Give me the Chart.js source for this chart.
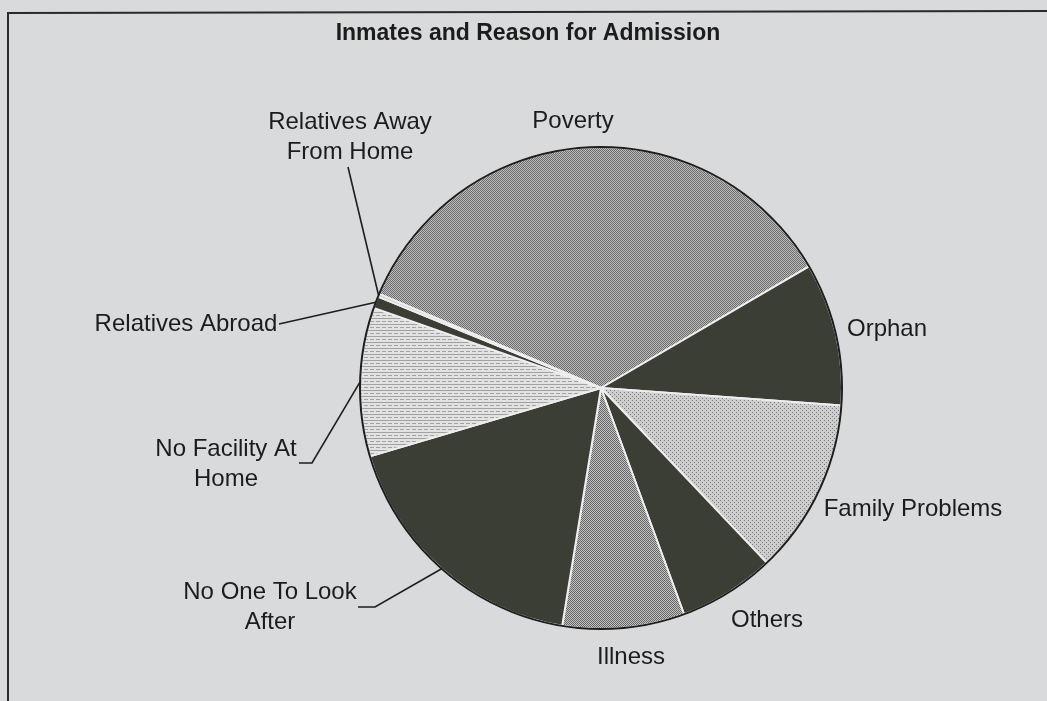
<!DOCTYPE html>
<html>
<head>
<meta charset="utf-8">
<script src="https://cdn.jsdelivr.net/npm/chart.js@4"></script>
<style>
html, body { margin: 0; padding: 0; background: #d9dadc; }
</style>
</head>
<body>
<canvas id="admissionPie" width="1047" height="701"></canvas>
<script>
// data (share of inmates, %)
var reasons = ["Poverty", "Orphan", "Family Problems", "Others", "Illness",
               "No One To Look After", "No Facility At Home", "Relatives Abroad",
               "Relatives Away From Home"];
var shares = [35.3, 9.6, 11.8, 6.5, 8.2, 17.9, 10.0, 0.8, 0.2];

var chartTitle = "Inmates and Reason for Admission";

// how each label is broken up / placed (layout only)
var labelLines = [["Poverty"], ["Orphan"], ["Family Problems"], ["Others"], ["Illness"],
                  ["No One To Look", "After"], ["No Facility At", "Home"],
                  ["Relatives Abroad"], ["Relatives Away", "From Home"]];
var labelAt = [[573, 121], [887, 329], [913, 509], [767, 620], [631, 657],
               [270, 592], [226, 449], [186, 324], [350, 122]];
// leader lines: points from the label side, the last leg goes to the slice edge
var leaders = [null, null, null, null, null,
               [[358, 607], [375, 607]],
               [[299, 463], [312, 463]],
               [[279, 324]],
               [[348, 167]]];

function makePattern(bg, fg, dots, size) {
    var c = document.createElement('canvas');
    c.width = size; c.height = size;
    var g = c.getContext('2d');
    g.fillStyle = bg;
    g.fillRect(0, 0, size, size);
    g.fillStyle = fg;
    dots.forEach(function(d) { g.fillRect(d[0], d[1], d[2], d[3]); });
    return g.createPattern(c, 'repeat');
}

var darkFill = '#3b3e35';
var povertyFill = makePattern('#bcbcbc', '#6c6c6c', [[0, 0, 1, 1], [1, 1, 1, 1]], 2);
var familyFill = makePattern('#cdcdcd', '#7c7c7c', [[0, 0, 1, 1], [2, 2, 1, 1]], 4);
var illnessFill = makePattern('#c2c2c2', '#666666', [[0, 0, 1, 1], [1, 1, 1, 1]], 2);
var facilityFill = makePattern('#e2e2e2', '#a2a2a2', [[0, 0, 6, 1], [0, 3, 2, 1], [4, 3, 2, 1]], 6);

var sliceFills = [povertyFill, darkFill, familyFill, darkFill, illnessFill,
                  darkFill, facilityFill, darkFill, '#cfcfcf'];

var paperPlugin = {
    id: 'paper',
    beforeDraw: function(chart) {
        var c = chart.ctx;
        c.save();
        c.fillStyle = '#d9dadc';
        c.fillRect(0, 0, chart.width, chart.height);
        // frame of the scanned figure
        c.strokeStyle = '#2a2a2a';
        c.lineWidth = 2;
        c.beginPath();
        c.moveTo(8, 701);
        c.lineTo(8, 13);
        c.lineTo(1047, 11);
        c.stroke();
        c.restore();
    },
    afterDatasetsDraw: function(chart) {
        var c = chart.ctx;
        var arcs = chart.getDatasetMeta(0).data;
        c.save();
        // dark outer rim
        var a0 = arcs[0];
        c.strokeStyle = '#1e1e1e';
        c.lineWidth = 2;
        c.beginPath();
        c.arc(a0.x, a0.y, a0.outerRadius, 0, Math.PI * 2);
        c.stroke();

        // leader lines
        c.strokeStyle = '#1e1e1e';
        c.lineWidth = 1.6;
        arcs.forEach(function(arc, i) {
            if (!leaders[i]) return;
            var mid = (arc.startAngle + arc.endAngle) / 2;
            var ex = arc.x + arc.outerRadius * Math.cos(mid);
            var ey = arc.y + arc.outerRadius * Math.sin(mid);
            c.beginPath();
            c.moveTo(leaders[i][0][0], leaders[i][0][1]);
            for (var k = 1; k < leaders[i].length; k++) c.lineTo(leaders[i][k][0], leaders[i][k][1]);
            c.lineTo(ex, ey);
            c.stroke();
        });

        // labels
        c.fillStyle = '#1c1c1c';
        c.font = '24px "Liberation Sans", Arial, sans-serif';
        c.textAlign = 'center';
        c.textBaseline = 'middle';
        labelLines.forEach(function(lines, i) {
            lines.forEach(function(t, k) {
                c.fillText(t, labelAt[i][0], labelAt[i][1] + k * 30);
            });
        });

        // title
        c.font = 'bold 23px "Liberation Sans", Arial, sans-serif';
        c.fillText(chartTitle, 528, 34);
        c.restore();
    }
};

var ctx = document.getElementById('admissionPie').getContext('2d');
var chart = new Chart(ctx, {
    type: 'pie',
    data: {
        labels: reasons,
        datasets: [{
            data: shares,
            backgroundColor: sliceFills,
            borderColor: '#eeeeee',
            borderWidth: 2
        }]
    },
    options: {
        responsive: false,
        animation: false,
        rotation: 293,
        layout: { padding: { left: 358, right: 203, top: 146, bottom: 71 } },
        plugins: {
            legend: { display: false },
            title: { display: false },
            tooltip: { enabled: false }
        }
    },
    plugins: [paperPlugin]
});
</script>
</body>
</html>
